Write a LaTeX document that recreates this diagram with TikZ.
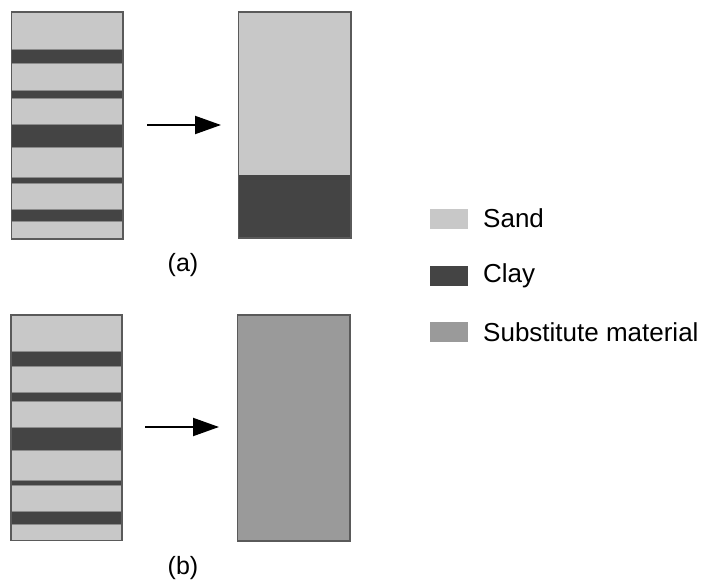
\documentclass[tikz,border=0pt]{standalone}
\usepackage{fontspec}
\setmainfont{Liberation Sans}
\usetikzlibrary{arrows.meta}
\definecolor{sand}{HTML}{C8C8C8}
\definecolor{clay}{HTML}{444444}
\definecolor{subst}{HTML}{9A9A9A}
\definecolor{edge}{HTML}{5A5A5A}
\begin{document}
\begin{tikzpicture}[x=1pt,y=-1pt,
  lay/.style={draw=edge!70,line width=0.8pt},
  frame/.style={draw=edge,line width=1.2pt},
  swatch/.style={minimum width=38pt,minimum height=20pt,inner sep=0pt},
  lbl/.style={font=\fontsize{26}{30}\selectfont,anchor=west,inner sep=0pt},
  partlbl/.style={font=\fontsize{25}{30}\selectfont,inner sep=0pt},
  flow/.style={line width=2pt,-{Triangle[length=26pt,width=18pt]}}]
\useasboundingbox (0,0) rectangle (707,580);

% (a) layered column
\fill[sand] (11.5,12) rectangle (123,239);
\foreach \t/\b in {49.3/63.3, 90.7/98.7, 124/147, 177.3/183.3, 209.3/221.7}
  \filldraw[lay,fill=clay] (11.5,\t) rectangle (123,\b);
\node[frame,minimum width=111.5pt,minimum height=227pt,inner sep=0pt] (colA) at (67.25,125.5) {};

% (a) result: sand over clay
\fill[sand] (238.5,12) rectangle (351,174.7);
\fill[clay] (238.5,174.7) rectangle (351,238);
\node[frame,minimum width=112.5pt,minimum height=226pt,inner sep=0pt] (resA) at (294.75,125) {};

\coordinate (aS) at (147,125);
\coordinate (aE) at (221,125);
\draw[flow] (aS) -- (aE);
\node[partlbl] (capA) at (183,265) {(a)};

% (b) layered column
\fill[sand] (11,315) rectangle (122,540.5);
\foreach \t/\b in {351.7/366, 392.7/401, 427/450, 480.3/485.7, 511.3/524}
  \filldraw[lay,fill=clay] (11,\t) rectangle (122,\b);
\node[frame,minimum width=111pt,minimum height=225.5pt,inner sep=0pt] (colB) at (66.5,427.75) {};

% (b) result: substitute material
\node[frame,fill=subst,minimum width=112.5pt,minimum height=226pt,inner sep=0pt] (resB) at (293.75,428) {};

\coordinate (bS) at (145,427);
\coordinate (bE) at (219,427);
\draw[flow] (bS) -- (bE);
\node[partlbl] (capB) at (183,568) {(b)};

% legend
\node[swatch,fill=sand] (kS) at (449,219) {};
\node[swatch,fill=clay] (kC) at (449,276.3) {};
\node[swatch,fill=subst] (kM) at (449,332) {};
\node[lbl] (tS) at (483,218) {Sand};
\node[lbl] (tC) at (483,276) {Clay};
\node[lbl] (tM) at (483,332) {Substitute material};
\end{tikzpicture}
\end{document}
